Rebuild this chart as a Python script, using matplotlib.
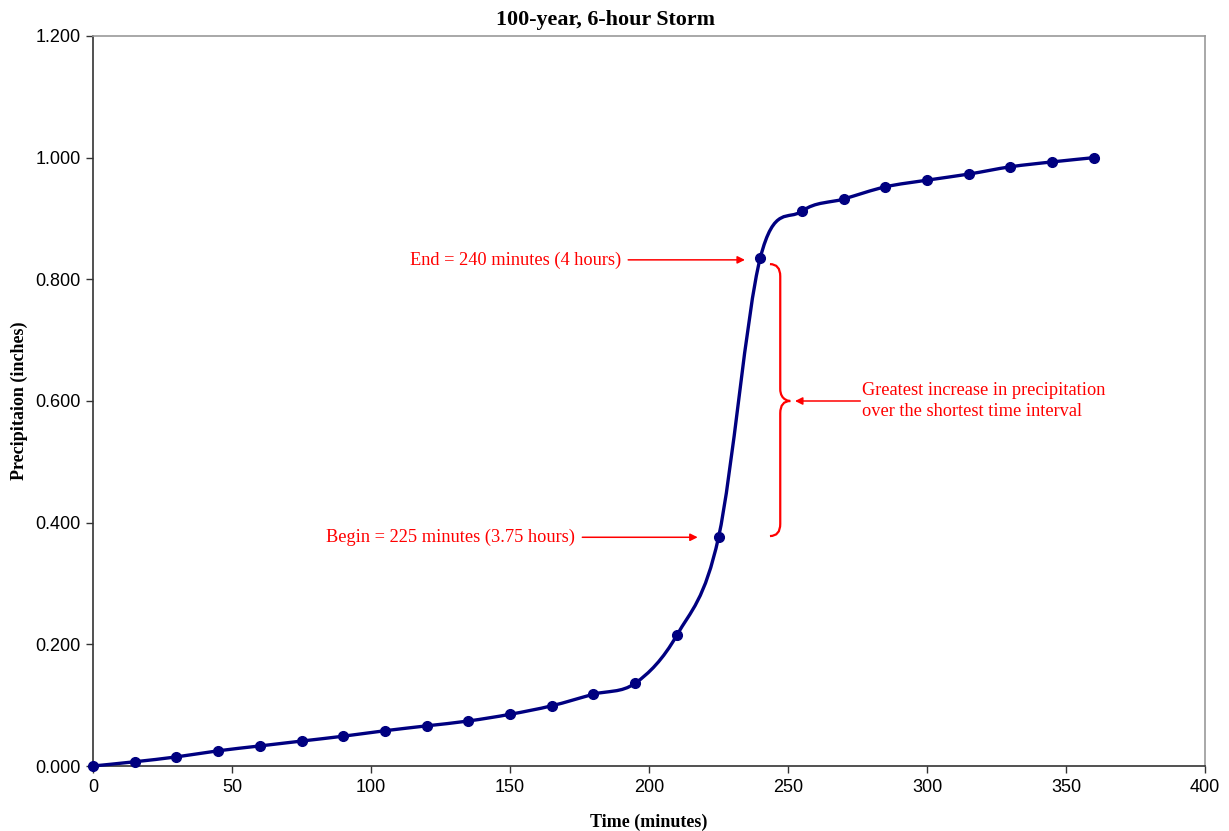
import numpy as np
import matplotlib.pyplot as plt
from matplotlib.path import Path
from matplotlib.patches import PathPatch
from matplotlib.ticker import FormatStrFormatter

# cumulative rainfall, 100-year 6-hour storm
time_min = [0, 15, 30, 45, 60, 75, 90, 105, 120, 135, 150, 165, 180, 195,
            210, 225, 240, 255, 270, 285, 300, 315, 330, 345, 360]
precip_in = [0.000, 0.007, 0.015, 0.025, 0.033, 0.041, 0.049, 0.058, 0.066,
             0.074, 0.085, 0.099, 0.118, 0.136, 0.215, 0.376, 0.835, 0.912,
             0.932, 0.952, 0.963, 0.973, 0.985, 0.993, 1.000]

serif = 'Liberation Serif'
sans = 'Liberation Sans'
navy = '#000080'


def smooth_path(x, y):
    # bezier segments with catmull-rom style handles (spreadsheet "smoothed line")
    pts = np.column_stack([x, y]).astype(float)
    n = len(pts)
    verts = [pts[0]]
    codes = [Path.MOVETO]
    for i in range(n - 1):
        p0 = pts[i - 1] if i > 0 else pts[i]
        p1 = pts[i]
        p2 = pts[i + 1]
        p3 = pts[i + 2] if i + 2 < n else pts[i + 1]
        c1 = p1 + (p2 - p0) / 6.0
        c2 = p2 - (p3 - p1) / 6.0
        verts += [c1, c2, p2]
        codes += [Path.CURVE4] * 3
    return Path(verts, codes)


fig = plt.figure(figsize=(12.29, 8.31), dpi=100)
ax = fig.add_axes([0.0757, 0.0782, 0.9048, 0.8785])

ax.add_patch(PathPatch(smooth_path(time_min, precip_in), facecolor='none',
                       edgecolor=navy, lw=2.4, zorder=3, clip_on=False))
ax.plot(time_min, precip_in, 'o', color=navy, markersize=7, zorder=4,
        clip_on=False)

ax.set_xlim(0, 400)
ax.set_ylim(0, 1.2)
ax.set_xticks(np.arange(0, 401, 50))
ax.set_yticks(np.arange(0, 1.21, 0.2))
ax.yaxis.set_major_formatter(FormatStrFormatter('%.3f'))
ax.tick_params(direction='out', length=5, width=1, colors='#333333',
               labelcolor='black', labelsize=13, pad=4)
for lab in ax.get_xticklabels() + ax.get_yticklabels():
    lab.set_family(sans)
ax.spines['left'].set_color('#333333')
ax.spines['bottom'].set_color('#333333')
ax.spines['top'].set_color('#999999')
ax.spines['right'].set_color('#999999')
for s in ax.spines.values():
    s.set_linewidth(1.2)

fig.text(605 / 1229, 1 - 20 / 831, '100-year, 6-hour Storm', family=serif,
         fontweight='bold', fontsize=15.8, ha='center', va='center')
ax.set_xlabel('Time (minutes)', family=serif, fontweight='bold', fontsize=13,
              labelpad=13)
ax.set_ylabel('Precipitaion (inches)', family=serif, fontweight='bold',
              fontsize=13, labelpad=5)

red = '#ff0000'
arrow = dict(arrowstyle='-|>', color=red, lw=1.1, mutation_scale=11,
             shrinkA=0, shrinkB=0)
note = dict(color=red, family=serif, fontsize=13.2, va='center')

# end of steepest interval
ax.annotate('', xy=(234.5, 0.832), xytext=(192.5, 0.832), arrowprops=arrow)
ax.text(190, 0.832, 'End = 240 minutes (4 hours)', ha='right', **note)

# beginning of steepest interval
ax.annotate('', xy=(217.5, 0.376), xytext=(176, 0.376), arrowprops=arrow)
ax.text(173.5, 0.376, 'Begin = 225 minutes (3.75 hours)', ha='right', **note)

# curly brace spanning 225-240 minute rise
bx0, bx1, bxt = 243.5, 247.2, 250.8
ytop, ybot, ymid = 0.825, 0.378, 0.600
r = 0.02
brace = Path(
    [(bx0, ytop), (bx1, ytop), (bx1, ytop - r),
     (bx1, ymid + r),
     (bx1, ymid), (bxt, ymid), (bxt, ymid),
     (bx1, ymid), (bx1, ymid - r),
     (bx1, ybot + r),
     (bx1, ybot), (bx0, ybot)],
    [Path.MOVETO, Path.CURVE3, Path.CURVE3,
     Path.LINETO,
     Path.CURVE4, Path.CURVE4, Path.CURVE4,
     Path.CURVE3, Path.CURVE3,
     Path.LINETO,
     Path.CURVE3, Path.CURVE3])
ax.add_patch(PathPatch(brace, facecolor='none', edgecolor=red, lw=1.6,
                       zorder=3))

ax.annotate('', xy=(252.5, 0.600), xytext=(276, 0.600), arrowprops=arrow)
ax.text(276.5, 0.600, 'Greatest increase in precipitation\nover the shortest time interval',
        ha='left', linespacing=1.3, **note)

fig.savefig('out.png', dpi=100)
